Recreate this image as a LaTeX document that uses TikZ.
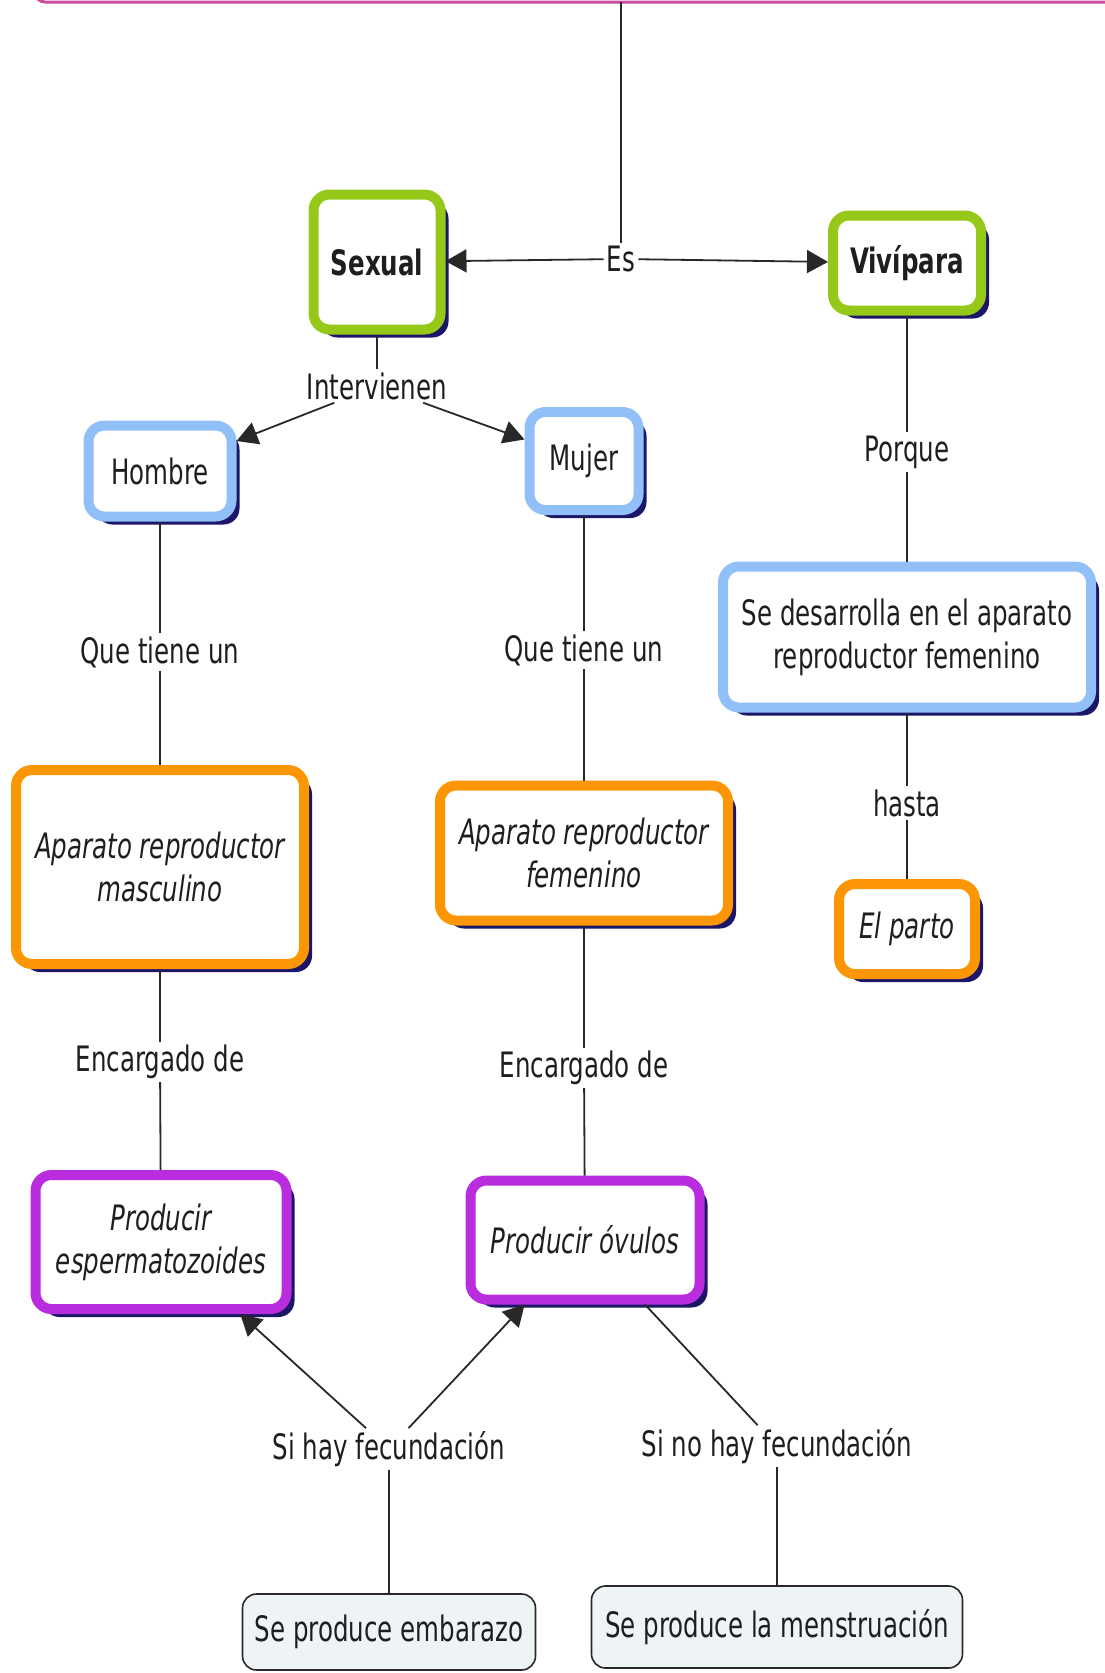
\documentclass[tikz,border=0pt]{standalone}
\usepackage{fontspec}
\setmainfont{DejaVu Sans}[FakeStretch=0.7]
\usetikzlibrary{arrows.meta,shadows}
\definecolor{cmgreen}{RGB}{150,200,25}
\definecolor{cmblue}{RGB}{145,192,248}
\definecolor{cmorange}{RGB}{252,150,5}
\definecolor{cmpurple}{RGB}{185,45,222}
\definecolor{cmshadow}{RGB}{28,22,105}
\definecolor{cmpink}{RGB}{200,75,160}
\definecolor{cmgray}{RGB}{238,243,246}
\definecolor{cmline}{RGB}{40,40,40}
\definecolor{cmtext}{RGB}{30,30,30}
\newcommand{\mapsize}{\fontsize{35}{43}\selectfont}

\begin{document}
\begin{tikzpicture}[x=1pt,y=-1pt,
  box/.style={rounded corners=16pt,line width=10pt,fill=white,align=center,text=cmtext,inner sep=0pt,font=\mapsize,
    drop shadow={shadow xshift=8pt,shadow yshift=-8pt,fill=cmshadow,opacity=1}},
  greenbox/.style={box,draw=cmgreen,font=\mapsize\bfseries},
  bluebox/.style={box,draw=cmblue},
  orangebox/.style={box,draw=cmorange,font=\mapsize\itshape},
  purplebox/.style={box,draw=cmpurple,font=\mapsize\itshape},
  graybox/.style={rounded corners=14pt,line width=1.6pt,draw=cmline,fill=cmgray,text=cmtext,inner sep=0pt,font=\mapsize},
  link/.style={fill=white,text=cmtext,inner sep=3pt,font=\mapsize},
  conn/.style={draw=cmline,line width=1.8pt},
  arr/.style={conn,-{Triangle[length=21pt,width=23pt]}}]
\useasboundingbox (0,0) rectangle (1104,1673);
\draw[cmpink,line width=3pt,rounded corners=10pt] (35,-60) rectangle (1160,2);
\coordinate (top) at (621,2);
\node[link] (es) at (621,259) {Es};
\node[greenbox,minimum width=127pt,minimum height=135pt] (sexual) at (377,262) {Sexual};
\node[greenbox,minimum width=148pt,minimum height=95pt] (vivipara) at (907,263) {Vivípara};
\node[link] (intervienen) at (377,386) {Intervienen};
\node[bluebox,minimum width=143pt,minimum height=91pt] (hombre) at (160,471) {Hombre};
\node[bluebox,minimum width=109pt,minimum height=98pt] (mujer) at (584,461) {Mujer};
\node[link] (porque) at (907,452) {Porque};
\node[bluebox,minimum width=368pt,minimum height=141pt] (desarrolla) at (907,637) {Se desarrolla en el aparato\\reproductor femenino};
\node[link] (hasta) at (907,803) {hasta};
\node[orangebox,minimum width=136pt,minimum height=90pt] (parto) at (907,929) {El parto};
\node[link] (tieneH) at (160,652) {Que tiene un};
\node[link] (tieneM) at (584,650) {Que tiene un};
\node[orangebox,minimum width=288pt,minimum height=194pt] (masculino) at (160,867) {Aparato reproductor\\masculino};
\node[orangebox,minimum width=288pt,minimum height=135pt] (femenino) at (584,853) {Aparato reproductor\\femenino};
\node[link] (encargadoH) at (160,1062) {Encargado de};
\node[link] (encargadoM) at (584,1068) {Encargado de};
\node[purplebox,minimum width=251pt,minimum height=134pt] (esperma) at (161,1242) {Producir\\espermatozoides};
\node[purplebox,minimum width=229pt,minimum height=119pt] (ovulos) at (585,1240) {Producir óvulos};
\node[link] (sihay) at (389,1449) {Si hay fecundación};
\node[link] (sinohay) at (777,1446) {Si no hay fecundación};
\node[graybox,minimum width=293pt,minimum height=76pt] (embarazo) at (389,1632) {Se produce embarazo};
\node[graybox,minimum width=371pt,minimum height=82pt] (menstruacion) at (777,1627) {Se produce la menstruación};
\draw[conn] (top) -- (es);
\draw[arr] (es) -- (sexual);
\draw[arr] (es) -- (vivipara);
\draw[conn] (sexual) -- (intervienen);
\draw[arr] (intervienen) -- (hombre);
\draw[arr] (intervienen) -- (mujer);
\draw[conn] (vivipara) -- (porque);
\draw[conn] (porque) -- (desarrolla);
\draw[conn] (desarrolla) -- (hasta);
\draw[conn] (hasta) -- (parto);
\draw[conn] (hombre) -- (tieneH);
\draw[conn] (tieneH) -- (masculino);
\draw[conn] (mujer) -- (tieneM);
\draw[conn] (tieneM) -- (femenino);
\draw[conn] (masculino) -- (encargadoH);
\draw[conn] (encargadoH) -- (esperma);
\draw[conn] (femenino) -- (encargadoM);
\draw[conn] (encargadoM) -- (ovulos);
\draw[arr] (sihay) -- (esperma);
\draw[arr] (sihay) -- (ovulos);
\draw[conn] (ovulos) -- (sinohay);
\draw[conn] (sihay) -- (embarazo);
\draw[conn] (sinohay) -- (menstruacion);
\end{tikzpicture}
\end{document}
